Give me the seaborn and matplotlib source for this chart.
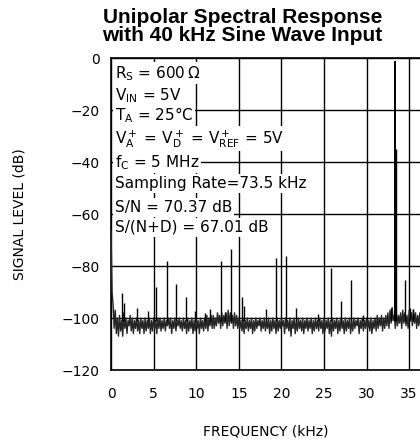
import numpy as np
import matplotlib
matplotlib.use('Agg')
import matplotlib.pyplot as plt
import seaborn as sns

# FFT bins, 0.125 kHz apart, levels in dB (noise floor)
bin_khz = 0.125
noise_db = [
    -66, -90, -95, -104, -97, -106, -100, -107, -99, -105, -101, -107, -98, -104, -100, -106, -101, -103, -99, -105, -100, -106, -101, -104,
    -100, -105, -101, -106, -100, -104, -101, -106, -100, -105, -101, -104, -100, -106, -101, -105, -100, -104, -101, -106, -100, -104, -100, -105,
    -101, -104, -100, -105, -101, -103, -100, -104, -100, -106, -101, -104, -100, -105, -101, -103, -100, -104, -101, -105, -100, -104, -101, -106,
    -100, -105, -101, -104, -100, -106, -101, -105, -100, -104, -101, -106, -100, -104, -101, -105, -100, -104, -99, -105, -100, -103, -99, -104,
    -99, -104, -100, -103, -98, -102, -99, -104, -98, -103, -99, -102, -98, -104, -97, -103, -98, -102, -99, -104, -98, -103, -99, -104,
    -100, -104, -101, -105, -100, -106, -101, -104, -100, -105, -101, -104, -100, -106, -101, -105, -100, -104, -101, -103, -100, -105, -101, -104,
    -100, -105, -101, -104, -100, -106, -101, -105, -100, -104, -101, -106, -100, -105, -101, -104, -100, -103, -101, -106, -100, -104, -101, -105,
    -100, -107, -101, -104, -100, -106, -101, -105, -100, -104, -101, -105, -100, -106, -101, -104, -100, -105, -101, -104, -100, -106, -101, -105,
    -100, -104, -101, -105, -100, -104, -101, -106, -100, -105, -101, -104, -100, -106, -101, -107, -100, -105, -101, -104, -100, -106, -101, -105,
    -100, -104, -101, -106, -100, -105, -101, -104, -100, -106, -101, -105, -100, -104, -101, -103, -100, -106, -101, -104, -100, -105, -101, -104,
    -100, -104, -101, -105, -100, -106, -101, -104, -100, -105, -99, -104, -100, -103, -99, -105, -100, -104, -99, -103, -98, -104, -97, -102,
    -96, -101, -99, -104, -98, -103, -99, -102, -98, -104, -97, -102, -98, -103, -99, -104, -97, -101, -98, -103, -97, -102, -98, -104,
    -99, -103, -98, -104, -99, -103, -100,
]
noise_khz = np.arange(len(noise_db)) * bin_khz

# spurs / harmonics
spur_khz = [1.25, 1.49, 3.0, 4.3, 5.28, 6.53, 7.59, 8.8, 9.86, 11.0, 11.6, 12.9, 13.4, 14.08,
            15.34, 15.65, 18.15, 19.33, 20.5, 21.7, 24.3, 25.8, 27.0, 28.13, 29.6, 32.86,
            33.45, 34.5, 35.1, 35.5]
spur_db = [-90.5, -94.3, -96.3, -97.3, -88, -78.1, -87, -92, -97.3, -98, -96.7, -78.1, -97.6, -73.5,
           -91.8, -95.4, -96.7, -77.1, -76.2, -96, -98.6, -80.9, -93.5, -85.4, -99, -96.3,
           -35, -85.4, -96, -96.5]

# 40 kHz input aliased to 73.5 - 40 = 33.5 kHz
fund_khz = [33.28]
fund_db = [-1.3]

x_ticks = [0, 5, 10, 15, 20, 25, 30, 35]
y_ticks = [-120, -100, -80, -60, -40, -20, 0]

notes = [
    r'R$_\mathregular{S}$ = 600$\,\Omega$',
    r'V$_\mathregular{IN}$ = 5V',
    r'T$_\mathregular{A}$ = 25°C',
    r'V$_\mathregular{A}^+$ = V$_\mathregular{D}^+$ = V$_\mathregular{REF}^+$ = 5V',
    r'f$_\mathregular{C}$ = 5 MHz',
    'Sampling Rate=73.5 kHz',
    'S/N = 70.37 dB',
    'S/(N+D) = 67.01 dB',
]
note_y = [-7.7, -16.2, -23.8, -32.7, -41.9, -50.0, -59.2, -66.9]

sns.set_style('white')
plt.rcParams['font.family'] = ['DejaVu Sans']
plt.rcParams['mathtext.fontset'] = 'dejavusans'
plt.rcParams['text.color'] = 'black'
plt.rcParams['axes.labelcolor'] = 'black'

fig = plt.figure(figsize=(4.2, 4.46), dpi=100)
ax = fig.add_axes([111 / 420, 1 - 370 / 446, 309 / 420, 312 / 446])

sns.lineplot(x=noise_khz, y=noise_db, ax=ax, color='#262626', linewidth=1.0,
             estimator=None, sort=False, zorder=3)
ax.vlines(spur_khz, -101, spur_db, color='black', linewidth=1.0, zorder=3)
ax.vlines(fund_khz, -101, fund_db, color='black', linewidth=1.4, zorder=5)

ax.set_xlim(0, 36.27)
ax.set_ylim(-120, 0)
ax.set_xticks(x_ticks)
ax.set_yticks(y_ticks)
ax.set_yticklabels([f'\u2212{abs(v)}' if v < 0 else '0' for v in y_ticks])
ax.grid(True, color='black', linewidth=1.0)
ax.set_axisbelow(True)
ax.tick_params(axis='x', length=0, pad=12, labelsize=10, colors='black')
ax.tick_params(axis='y', length=0, pad=8, labelsize=10, colors='black')
for side in ['left', 'bottom', 'top']:
    ax.spines[side].set_color('black')
    ax.spines[side].set_linewidth(1.2)
ax.spines['right'].set_visible(False)

ax.set_xlabel('FREQUENCY (kHz)', fontsize=10)
ax.set_ylabel('SIGNAL LEVEL (dB)', fontsize=10)
ax.xaxis.set_label_coords(0.5, -0.176)
ax.yaxis.set_label_coords(-0.272, 0.5)

for txt, yy in zip(notes, note_y):
    ax.text(0.45, yy, txt, fontsize=11, va='baseline', ha='left', zorder=4,
            bbox=dict(facecolor='white', edgecolor='none', pad=1.2))

fig.text(0.577, 0.982, 'Unipolar Spectral Response\nwith 40 kHz Sine Wave Input',
         ha='center', va='top', fontsize=15, fontweight='bold',
         family='Liberation Sans', linespacing=0.92)

plt.savefig('out.png', dpi=100, facecolor='white')
plt.close()
